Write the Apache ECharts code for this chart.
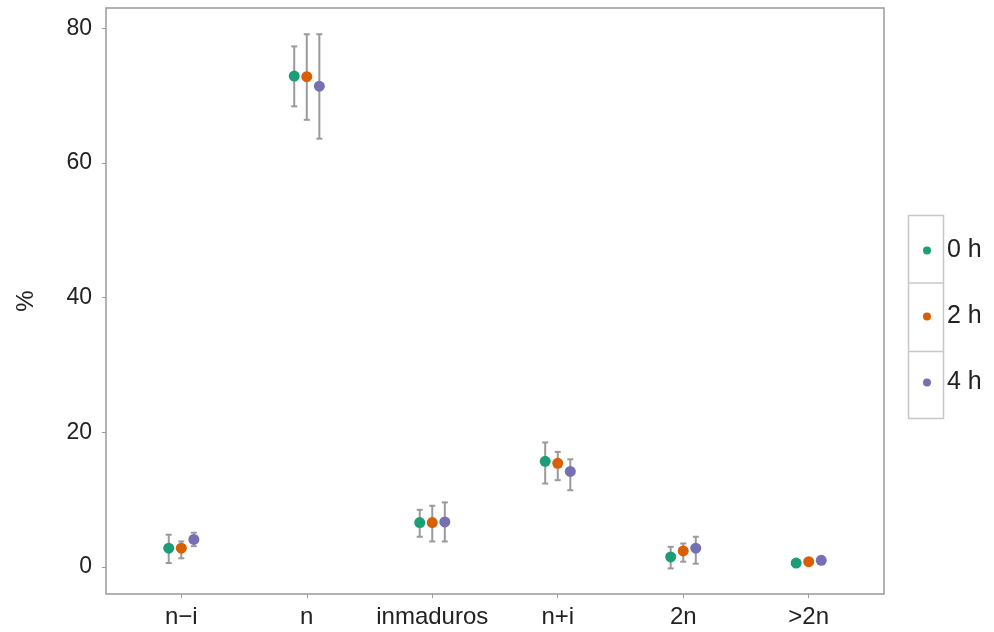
<!DOCTYPE html>
<html>
<head>
<meta charset="utf-8">
<script src="https://cdn.jsdelivr.net/npm/echarts@6/dist/echarts.min.js"></script>
<style>
  html, body { margin: 0; padding: 0; background: #fff; }
  #app { width: 994px; height: 632px; }
</style>
</head>
<body>
<div id="app"></div>
<script>
var categories = ['n\u2212i', 'n', 'inmaduros', 'n+i', '2n', '>2n'];
var groups = ['0 h', '2 h', '4 h'];
var colors = ['#1b9e77', '#d95f02', '#7570b3'];
var offsets = [-0.1, 0, 0.1];

// media y limites de la barra de error para cada grupo
var mean0 = [2.8, 72.9, 6.6, 15.7, 1.5, 0.6];
var low0  = [0.6, 68.4, 4.5, 12.4, -0.2, 0.3];
var high0 = [4.8, 77.3, 8.5, 18.5, 3.0, 0.9];

var mean2 = [2.8, 72.8, 6.6, 15.4, 2.4, 0.8];
var low2  = [1.3, 66.4, 3.8, 12.9, 0.8, 0.5];
var high2 = [3.8, 79.1, 9.1, 17.1, 3.5, 1.1];

var mean4 = [4.1, 71.4, 6.7, 14.2, 2.8, 1.0];
var low4  = [3.1, 63.6, 3.8, 11.4, 0.5, 0.7];
var high4 = [5.1, 79.1, 9.6, 16.0, 4.5, 1.3];

var yTicks = [0, 20, 40, 60, 80];
var xTicks = [1, 2, 3, 4, 5, 6];

window.onload = function() {
  var myChart = echarts.init(document.getElementById('app'));
  var means = [mean0, mean2, mean4];
  var lows = [low0, low2, low4];
  var highs = [high0, high2, high4];

  var series = [];
  for (var g = 0; g < groups.length; g++) {
    var bars = [], pts = [];
    for (var i = 0; i < categories.length; i++) {
      var x = i + 1 + offsets[g];
      bars.push([x, lows[g][i], highs[g][i]]);
      pts.push([x, means[g][i]]);
    }
    series.push({
      name: groups[g] + ' err',
      type: 'custom',
      data: bars,
      z: 2,
      silent: true,
      renderItem: function(params, api) {
        var x = api.value(0);
        var p1 = api.coord([x, api.value(1)]);
        var p2 = api.coord([x, api.value(2)]);
        var w = 3;
        var st = { stroke: '#9a9a9a', lineWidth: 2 };
        return {
          type: 'group',
          children: [
            { type: 'line', shape: { x1: p1[0], y1: p1[1], x2: p2[0], y2: p2[1] }, style: st },
            { type: 'line', shape: { x1: p1[0] - w, y1: p1[1], x2: p1[0] + w, y2: p1[1] }, style: st },
            { type: 'line', shape: { x1: p2[0] - w, y1: p2[1], x2: p2[0] + w, y2: p2[1] }, style: st }
          ]
        };
      }
    });
    series.push({
      name: groups[g],
      type: 'scatter',
      data: pts,
      z: 3,
      symbolSize: 11,
      itemStyle: { color: colors[g], opacity: 1 }
    });
  }

  var option = {
    animation: false,
    textStyle: { fontFamily: 'Liberation Sans, Arial, sans-serif' },
    grid: {
      left: 106, right: 110, top: 8, bottom: 38,
      show: true, borderColor: '#9a9a9a', borderWidth: 1.5, backgroundColor: '#fff'
    },
    legend: {
      data: groups.map(function(n, k) { return { name: n, icon: 'circle', itemStyle: { color: colors[k] } }; }),
      orient: 'vertical',
      left: 918,
      top: 233,
      itemWidth: 30,
      itemHeight: 8,
      itemGap: 41,
      textStyle: { fontSize: 25, color: '#222' }
    },
    xAxis: {
      type: 'value',
      min: 0.4,
      max: 6.6,
      splitLine: { show: false },
      axisLine: { show: false, onZero: false },
      axisTick: { show: true, customValues: xTicks, length: 4, lineStyle: { color: '#9a9a9a' } },
      axisLabel: {
        customValues: xTicks,
        margin: 11,
        fontSize: 24,
        color: '#222',
        formatter: function(v) { return categories[Math.round(v) - 1] || ''; }
      }
    },
    yAxis: {
      type: 'value',
      min: -4,
      max: 83,
      name: '%',
      nameLocation: 'middle',
      nameGap: 68,
      nameRotate: 90,
      nameTextStyle: { fontSize: 24, color: '#222' },
      splitLine: { show: false },
      axisLine: { show: false, onZero: false },
      axisTick: { show: true, customValues: yTicks, length: 4, lineStyle: { color: '#9a9a9a' } },
      axisLabel: { customValues: yTicks, margin: 14, fontSize: 23, color: '#222' }
    },
    graphic: [
      { type: 'rect', shape: { x: 908.5, y: 215.5, width: 35, height: 203 }, style: { fill: 'none', stroke: '#c8c8c8', lineWidth: 1.5 } },
      { type: 'line', shape: { x1: 908.5, y1: 283, x2: 943.5, y2: 283 }, style: { stroke: '#c8c8c8', lineWidth: 1.5 } },
      { type: 'line', shape: { x1: 908.5, y1: 351.5, x2: 943.5, y2: 351.5 }, style: { stroke: '#c8c8c8', lineWidth: 1.5 } }
    ],
    series: series
  };
  myChart.setOption(option);
};
</script>
</body>
</html>
